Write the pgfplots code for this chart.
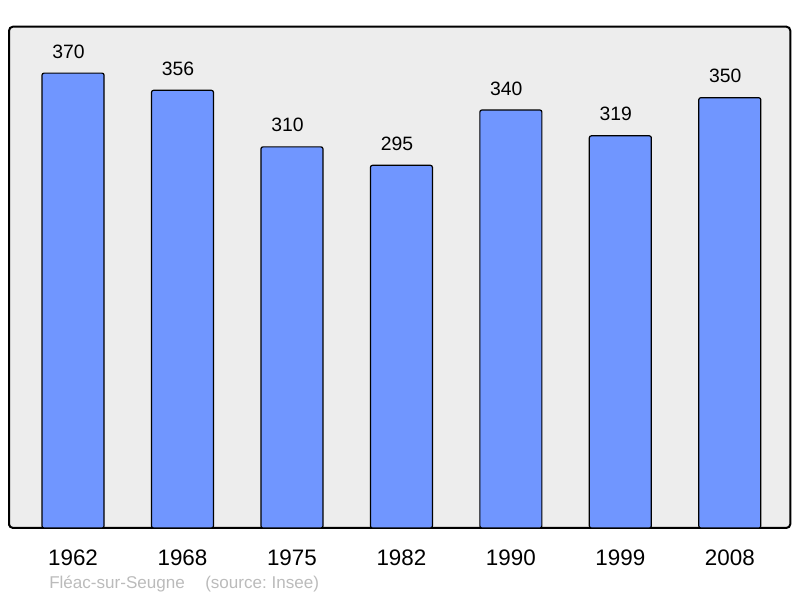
\documentclass[border=0pt]{standalone}
\usepackage{fontspec}
\setmainfont{Liberation Sans}
\usepackage{pgfplots}
\pgfplotsset{compat=1.18}

\definecolor{barblue}{RGB}{112,150,255}
\definecolor{bggray}{RGB}{237,237,237}
\definecolor{footgray}{RGB}{187,187,187}

\begin{document}
\frenchspacing
\begin{tikzpicture}[x=1pt,y=1pt]
  \useasboundingbox (0,0) rectangle (600,448.5);
  \begin{axis}[
      at={(6.75pt,52.5pt)}, anchor=south west,
      scale only axis,
      width=586pt, height=376pt,
      xmin=-0.585, xmax=6.553,
      ymin=0, ymax=407.8,
      axis background/.style={fill=bggray},
      axis line style={line width=1.5pt, rounded corners=3pt},
      ytick=\empty,
      xtick={0,...,6},
      xticklabels={1962,1968,1975,1982,1990,1999,2008},
      xtick style={draw=none},
      xticklabel style={anchor=base, yshift=-24pt, font=\fontsize{16.8}{18}\selectfont},
      /pgf/number format/assume math mode=true,
      ybar, bar width=46.5pt,
      nodes near coords,
      every node near coord/.append style={anchor=base, inner sep=0pt,
        xshift=-3.4pt, yshift=11.25pt, font=\fontsize{14.5}{16}\selectfont, black},
    ]
    \addplot[fill=barblue, draw=black, line width=0.9pt, rounded corners=1.5pt]
      coordinates {(0,370) (1,356) (2,310) (3,295) (4,340) (5,319) (6,350)};
  \end{axis}
  \node[anchor=base west, inner sep=0pt, text=footgray, font=\fontsize{12.8}{14}\selectfont]
    at (36.75,6.75) {Fléac-sur-Seugne};
  \node[anchor=base west, inner sep=0pt, text=footgray, font=\fontsize{12.8}{14}\selectfont]
    at (153.75,6.75) {(source: Insee)};
\end{tikzpicture}
\end{document}
